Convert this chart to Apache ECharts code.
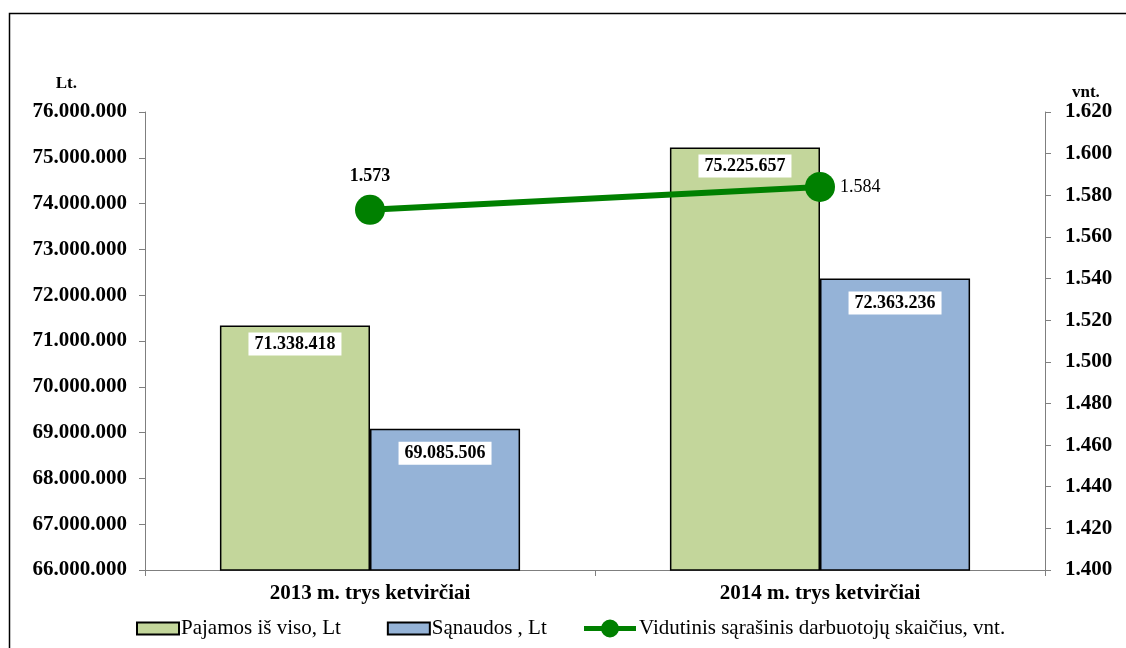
<!DOCTYPE html>
<html>
<head>
  <meta charset="UTF-8">
  <title>Pajamos, sąnaudos ir darbuotojai</title>
  <script src="https://cdn.jsdelivr.net/npm/echarts@6/dist/echarts.min.js"></script>
  <style>
    html, body { margin: 0; padding: 0; background: #fff; }
    #main { width: 1126px; height: 648px; }
  </style>
</head>
<body>
<div id="main"></div>
<script>
  // data
  const categories = ['2013 m. trys ketvirčiai', '2014 m. trys ketvirčiai'];
  const pajamos = [71338418, 75225657];
  const sanaudos = [69085506, 72363236];
  const darbuotojai = [1573, 1584];

  const seriesNames = ['Pajamos iš viso, Lt', 'Sąnaudos , Lt', 'Vidutinis sąrašinis darbuotojų skaičius, vnt.'];

  const font = '"Liberation Serif", "Times New Roman", serif';
  const fmt = v => Number(v).toLocaleString('de-DE');

  const axisCol = '#7f7f7f';

  const barLabel = dist => ({
    show: true,
    position: 'insideTop',
    distance: dist,
    formatter: p => fmt(p.value),
    fontFamily: font,
    fontWeight: 'bold',
    fontSize: 18,
    color: '#000',
    backgroundColor: '#fff',
    padding: [3, 6, 2, 6]
  });

  // thick line with a big dot, like the legend marker in the original
  const lineIcon = 'path://M0,6.5H52V11.5H0Z M26,0A9,9 0 1,1 25.99,0Z';

  const legendText = { fontFamily: font, fontSize: 21, color: '#000' };

  const chart = echarts.init(document.getElementById('main'), null, { renderer: 'canvas' });
  chart.setOption({
    animation: false,
    backgroundColor: '#fff',
    textStyle: { fontFamily: font },
    graphic: [{
      type: 'rect',
      left: 7, top: 11,
      shape: { width: 1140, height: 660 },
      style: { fill: 'none', stroke: '#000', lineWidth: 1.5 },
      silent: true
    }],
    grid: { left: 145, right: 81, top: 112, bottom: 78 },
    legend: [{
      left: 136,
      top: 618,
      padding: 0,
      itemWidth: 42,
      itemHeight: 12,
      itemGap: 46,
      textStyle: Object.assign({ padding: [0, 0, 0, -3] }, legendText),
      data: [
        { name: seriesNames[0], icon: 'rect' },
        { name: seriesNames[1], icon: 'rect' }
      ]
    }, {
      left: 584,
      top: 618,
      padding: 0,
      itemWidth: 52,
      itemHeight: 18,
      textStyle: Object.assign({ padding: [0, 0, 0, -2] }, legendText),
      data: [{ name: seriesNames[2], icon: lineIcon }]
    }],
    xAxis: {
      type: 'category',
      data: categories,
      axisLine: { lineStyle: { color: axisCol, width: 1 } },
      axisTick: { show: true, length: 6, lineStyle: { color: axisCol } },
      axisLabel: { fontFamily: font, fontWeight: 'bold', fontSize: 21, color: '#000', margin: 13 }
    },
    yAxis: [{
      type: 'value',
      min: 66000000,
      max: 76000000,
      interval: 1000000,
      name: 'Lt.',
      nameLocation: 'end',
      nameGap: 20,
      nameTextStyle: { fontFamily: font, fontWeight: 'bold', fontSize: 17, color: '#000', align: 'right', padding: [0, 68, 0, 0] },
      splitLine: { show: false },
      axisLine: { show: true, lineStyle: { color: axisCol } },
      axisTick: { show: true, length: 6, lineStyle: { color: axisCol } },
      axisLabel: { formatter: fmt, fontFamily: font, fontWeight: 'bold', fontSize: 21, color: '#000', margin: 18 }
    }, {
      type: 'value',
      min: 1400,
      max: 1620,
      interval: 20,
      position: 'right',
      name: 'vnt.',
      nameLocation: 'end',
      nameGap: 4,
      nameTextStyle: { fontFamily: font, fontWeight: 'bold', fontSize: 17, color: '#000', align: 'left', padding: [0, 0, 0, 27] },
      splitLine: { show: false },
      axisLine: { show: true, lineStyle: { color: axisCol } },
      axisTick: { show: true, length: 6, lineStyle: { color: axisCol } },
      axisLabel: { formatter: fmt, fontFamily: font, fontWeight: 'bold', fontSize: 21, color: '#000', margin: 20 }
    }],
    series: [{
      name: seriesNames[0],
      type: 'bar',
      data: pajamos,
      barGap: '0%',
      barCategoryGap: '33.3%',
      itemStyle: { color: '#c3d69b', borderColor: '#000', borderWidth: 1.5 },
      label: barLabel(7)
    }, {
      name: seriesNames[1],
      type: 'bar',
      data: sanaudos,
      itemStyle: { color: '#95b3d7', borderColor: '#000', borderWidth: 1.5 },
      label: barLabel(13)
    }, {
      name: seriesNames[2],
      type: 'line',
      yAxisIndex: 1,
      data: [
        { value: darbuotojai[0], label: { position: 'top', distance: 10, fontWeight: 'bold' } },
        { value: darbuotojai[1], label: { position: 'right', distance: 5, fontWeight: 'normal' } }
      ],
      symbol: 'circle',
      symbolSize: 30,
      lineStyle: { color: '#008000', width: 6 },
      itemStyle: { color: '#008000' },
      label: {
        show: true,
        formatter: p => fmt(p.value),
        fontFamily: font,
        fontSize: 18,
        color: '#000'
      },
      z: 5
    }]
  });
</script>
</body>
</html>
